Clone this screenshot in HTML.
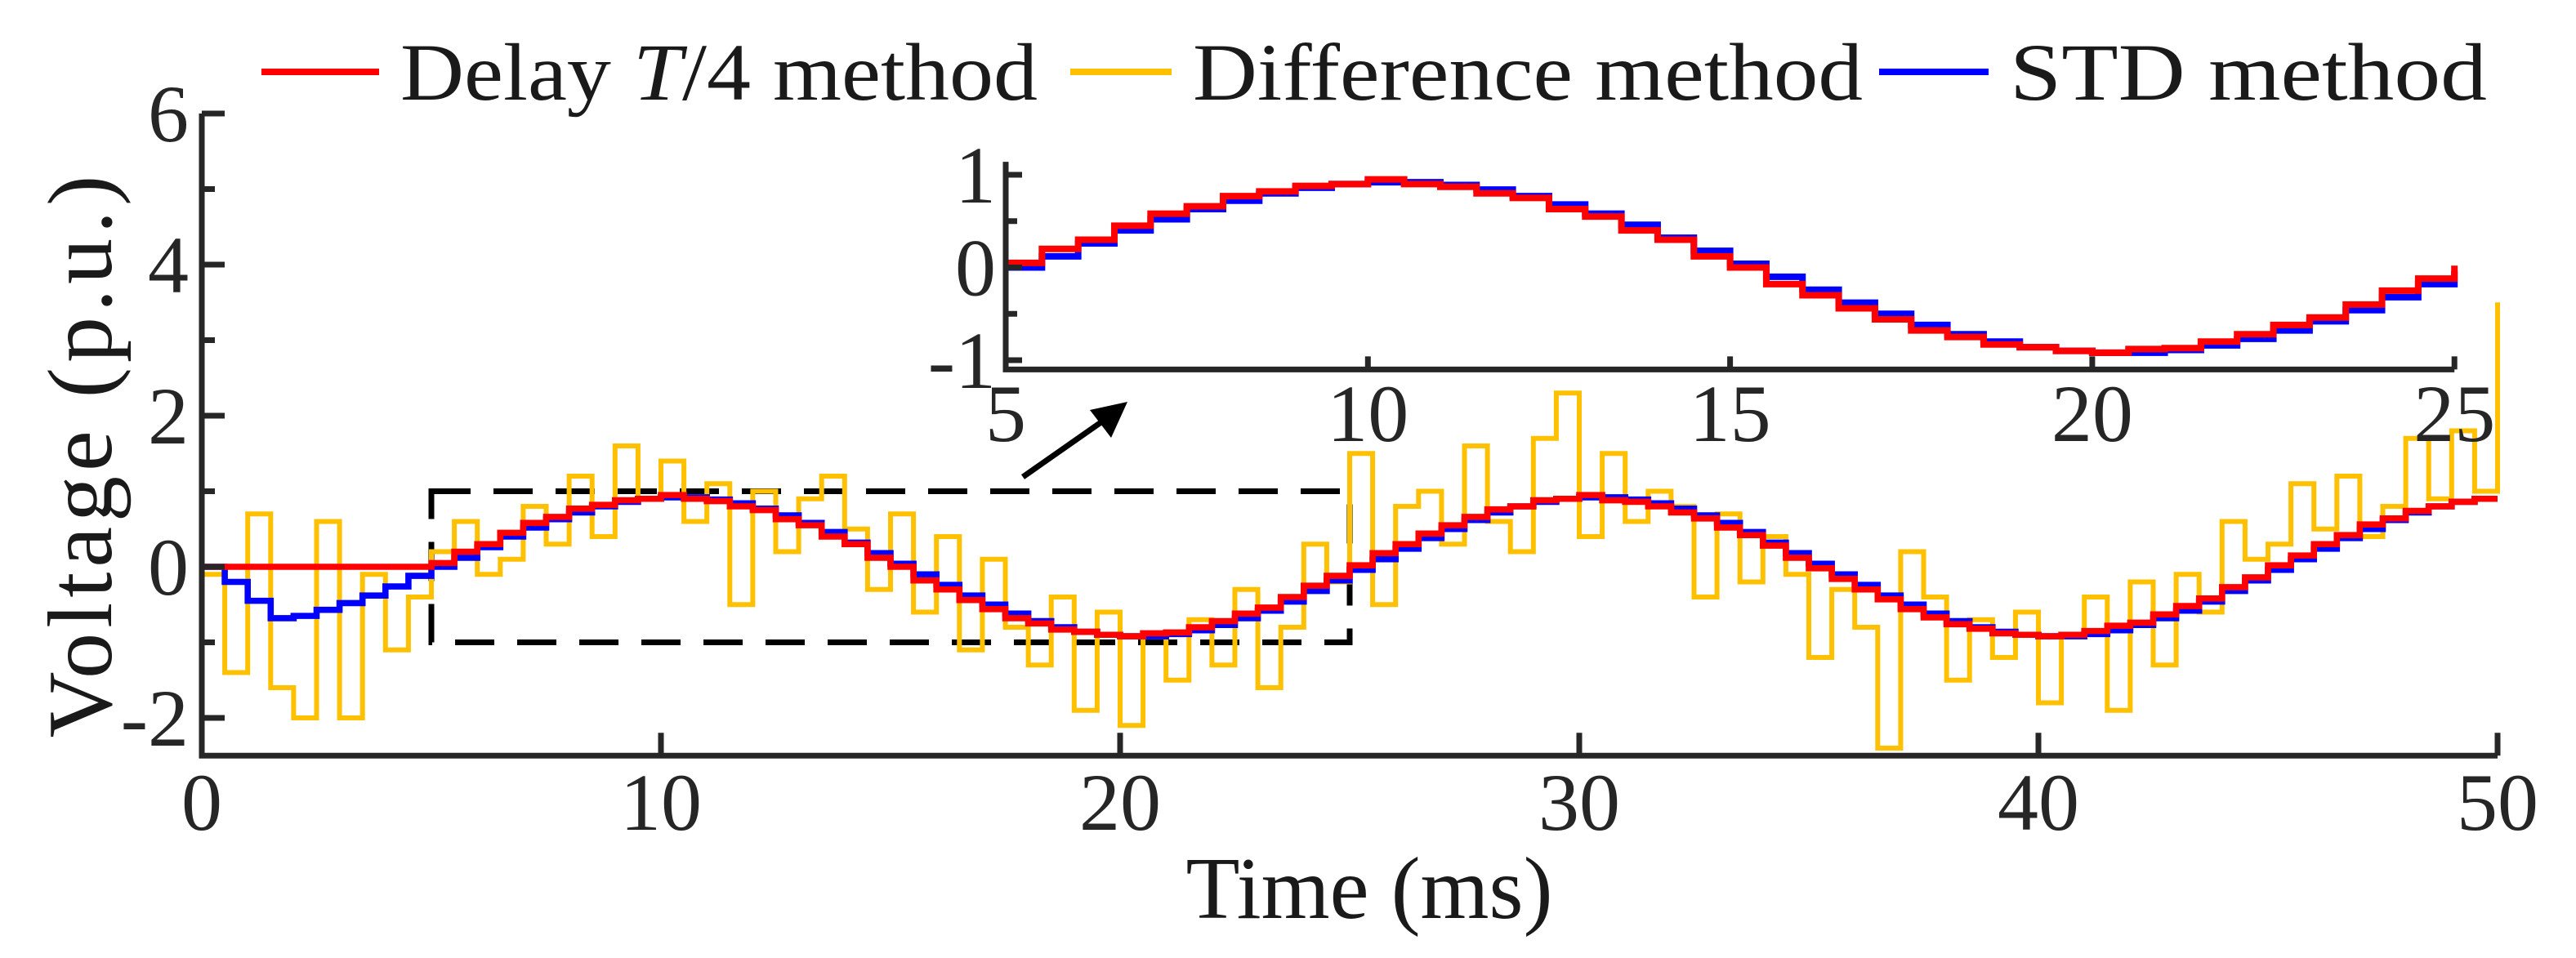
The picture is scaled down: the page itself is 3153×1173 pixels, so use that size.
<!DOCTYPE html>
<html><head><meta charset="utf-8"><style>html,body{margin:0;padding:0;background:#fff}svg{display:block}</style></head>
<body>
<svg id="chart" width="3153" height="1173" viewBox="0 0 1576.5 586.5" xmlns="http://www.w3.org/2000/svg" font-family="'Liberation Serif', serif">
<g id="legend">
  <line x1="160" y1="44" x2="232" y2="44" stroke="#ff0000" stroke-width="4"/>
  <text x="245" y="61" font-size="50" textLength="390" lengthAdjust="spacingAndGlyphs" fill="#1a1a1a">Delay <tspan font-style="italic">T</tspan>/4 method</text>
  <line x1="655" y1="44" x2="717" y2="44" stroke="#ffc000" stroke-width="4"/>
  <text x="730" y="61" font-size="50" textLength="410" lengthAdjust="spacingAndGlyphs" fill="#1a1a1a">Difference method</text>
  <line x1="1150" y1="44" x2="1217" y2="44" stroke="#0000ff" stroke-width="4"/>
  <text x="1230" y="61" font-size="50" textLength="292" lengthAdjust="spacingAndGlyphs" fill="#1a1a1a">STD method</text>
</g>
<g id="main"></g>
<g id="inset"></g>
</svg>
<script>
const xTicks = [0,10,20,30,40,50];
const yTicks = [6,4,2,0,-2];
const yMinor = [5,3,1,-1];
const insetXTicks = [5,10,15,20,25];
const insetYTicks = [1,0,-1];
const stepMs = 0.5;
const yellowVals = [
-0.1,-1.4,0.7,-1.6,-2.0,0.6,-2.0,-0.1,-1.1,-0.4,
0.2,0.6,-0.1,0.1,0.8,0.3,1.2,0.4,1.6,0.9,
1.4,0.6,1.1,-0.5,1.0,0.2,0.9,1.2,0.5,-0.3,
0.7,-0.6,0.4,-1.1,0.1,-0.8,-1.3,-0.4,-1.9,-0.6,
-2.1,-0.9,-1.5,-0.7,-1.3,-0.3,-1.6,-0.8,0.3,-0.2,
1.5,-0.5,0.8,1.0,0.3,1.6,0.6,0.2,1.7,2.3,
0.4,1.5,0.6,1.0,0.8,-0.4,0.7,-0.2,0.4,-0.1,
-1.2,-0.3,-0.8,-2.4,0.2,-0.4,-1.5,-0.7,-1.2,-0.6,
-1.8,-0.9,-0.4,-1.9,-0.2,-1.3,-0.1,-0.6,0.6,0.1,
0.3,1.1,0.5,1.2,0.4,0.8,1.7,0.9,1.8,1.0,3.5];
const redVals = [
0,0,0,0,0,0,0,0,0,0,
0.05,0.2,0.3,0.45,0.58,0.66,0.77,0.82,0.88,0.9,
0.95,0.9,0.87,0.8,0.75,0.63,0.55,0.4,0.3,0.12,
0.0,-0.18,-0.3,-0.44,-0.56,-0.68,-0.75,-0.83,-0.86,-0.9,
-0.92,-0.88,-0.87,-0.8,-0.72,-0.62,-0.54,-0.4,-0.25,-0.12,
0.02,0.18,0.3,0.44,0.55,0.66,0.76,0.8,0.88,0.9,
0.95,0.88,0.86,0.8,0.72,0.64,0.52,0.42,0.28,0.12,
-0.02,-0.16,-0.3,-0.43,-0.56,-0.67,-0.76,-0.82,-0.88,-0.9,
-0.92,-0.9,-0.85,-0.78,-0.74,-0.63,-0.52,-0.42,-0.27,-0.14,
0.02,0.15,0.3,0.42,0.56,0.64,0.74,0.8,0.86,0.9];
const blueVals = [
0,-0.2,-0.45,-0.68,-0.65,-0.57,-0.48,-0.38,-0.26,-0.12,
0.0,0.12,0.26,0.4,0.52,0.63,0.72,0.8,0.86,0.9,
0.92,0.92,0.89,0.84,0.77,0.68,0.58,0.46,0.32,0.18,
0.04,-0.1,-0.24,-0.38,-0.5,-0.62,-0.72,-0.8,-0.86,-0.9,
-0.92,-0.92,-0.89,-0.84,-0.77,-0.68,-0.58,-0.46,-0.32,-0.18,
-0.04,0.1,0.24,0.38,0.5,0.62,0.72,0.8,0.86,0.9,
0.92,0.92,0.89,0.84,0.77,0.68,0.58,0.46,0.32,0.18,
0.04,-0.1,-0.24,-0.38,-0.5,-0.62,-0.72,-0.8,-0.86,-0.9,
-0.92,-0.92,-0.89,-0.84,-0.77,-0.68,-0.58,-0.46,-0.32,-0.18,
-0.04,0.1,0.24,0.38,0.5,0.62,0.72,0.8,0.86,0.9];

const NS = "http://www.w3.org/2000/svg";
function mk(parent, tag, attrs, text){
  const e = document.createElementNS(NS, tag);
  for (const k in attrs) e.setAttribute(k, attrs[k]);
  if (text !== undefined) e.textContent = text;
  parent.appendChild(e); return e;
}
const mx = v => 123.5 + v * 28.1;
const my = v => 347 - v * 46.25;
const ix = v => 615.5 + (v - 5) * 44.33;
const iy = v => 163.75 - v * 56.75;

function stepPath(vals, t0, tEnd, X, Y){
  let d = "";
  for (let i = 0; i < vals.length; i++){
    const t = i * stepMs;
    if (t < t0 - 1e-9 || t > tEnd + 1e-9) continue;
    const tn = Math.min((i + 1) * stepMs, tEnd);
    if (d === "") d = "M" + X(t) + " " + Y(vals[i]);
    else d += " V" + Y(vals[i]);
    d += " H" + X(tn);
  }
  return d;
}

const main = document.getElementById('main');
const AX = "#262626";
const box = mk(main, 'rect', {x: mx(5), y: my(1), width: mx(25)-mx(5), height: my(-1)-my(1), fill: 'none', stroke: '#000', 'stroke-width': 3.5, 'stroke-dasharray': '24 14'});



const py = mk(main, 'path', {d: stepPath(yellowVals, 0, 50, mx, my), fill: 'none', stroke: '#ffc000', 'stroke-width': 3});


const pb = mk(main, 'path', {d: stepPath(blueVals, 0, 50, mx, my), fill: 'none', stroke: '#0000ff', 'stroke-width': 3.8});


const pr = mk(main, 'path', {d: stepPath(redVals, 0, 50, mx, my), fill: 'none', stroke: '#ff0000', 'stroke-width': 3.8});



const yAx = mk(main, 'path', {d: `M${mx(0)} ${my(6)} V${my(-2.5)} H${mx(50)}`, fill: 'none', stroke: AX, 'stroke-width': 3.5});


yTicks.forEach(v => {
  const t = mk(main, 'line', {x1: mx(0), x2: mx(0) + 14, y1: my(v), y2: my(v), stroke: AX, 'stroke-width': 3.5});
  
  
  const l = mk(main, 'text', {x: mx(0) - 8, y: my(v) + 17, 'font-size': 50, 'text-anchor': 'end', fill: AX}, String(v));
  
  
});
yMinor.forEach(v => {
  const t = mk(main, 'line', {x1: mx(0), x2: mx(0) + 8, y1: my(v), y2: my(v), stroke: AX, 'stroke-width': 3.5});
  
  
});
xTicks.forEach(v => {
  const t = mk(main, 'line', {x1: mx(v), x2: mx(v), y1: my(-2.5), y2: my(-2.5) - 14, stroke: AX, 'stroke-width': 3.5});
  
  
  const l = mk(main, 'text', {x: mx(v), y: 508, 'font-size': 50, 'text-anchor': 'middle', fill: AX}, String(v));
  
  
});
const xt = mk(main, 'text', {x: 838, y: 562, 'font-size': 54, 'text-anchor': 'middle', fill: '#1a1a1a'}, 'Time (ms)');


const yt = mk(main, 'text', {x: 0, y: 0, 'font-size': 56, 'text-anchor': 'middle', fill: '#1a1a1a', transform: 'translate(68 278) rotate(-90)', 'letter-spacing': 3}, 'Voltage  (p.u.)');



const ar = mk(main, 'line', {x1: 626, y1: 292, x2: 676, y2: 257, stroke: '#000', 'stroke-width': 3.5});


const ah = mk(main, 'polygon', {points: '690,246 667,251 680,268', fill: '#000'});



const inset = document.getElementById('inset');
const ib = mk(inset, 'path', {d: stepPath(blueVals, 5, 25, ix, iy), fill: 'none', stroke: '#0000ff', 'stroke-width': 4});


const ir = mk(inset, 'path', {d: stepPath(redVals, 5, 25, ix, iy), fill: 'none', stroke: '#ff0000', 'stroke-width': 4});


const iax = mk(inset, 'path', {d: `M${ix(5)} ${iy(1.14)} V${iy(-1.1)} H${ix(25)}`, fill: 'none', stroke: AX, 'stroke-width': 3.5});


insetYTicks.forEach(v => {
  const t = mk(inset, 'line', {x1: ix(5), x2: ix(5) + 10, y1: iy(v), y2: iy(v), stroke: AX, 'stroke-width': 3.5});
  
  
  const l = mk(inset, 'text', {x: ix(5) - 6, y: iy(v) + 17, 'font-size': 50, 'text-anchor': 'end', fill: AX}, String(v));
  
  
});
[0.5,-0.5].forEach(v => {
  const t = mk(inset, 'line', {x1: ix(5), x2: ix(5) + 7, y1: iy(v), y2: iy(v), stroke: AX, 'stroke-width': 3.5});
  
  
});
insetXTicks.forEach(v => {
  const t = mk(inset, 'line', {x1: ix(v), x2: ix(v), y1: iy(-1.1), y2: iy(-1.1) - 8, stroke: AX, 'stroke-width': 3.5});
  
  
  const l = mk(inset, 'text', {x: ix(v), y: 270, 'font-size': 50, 'text-anchor': 'middle', fill: AX}, String(v));
  
  
});
</script>
</body></html>
